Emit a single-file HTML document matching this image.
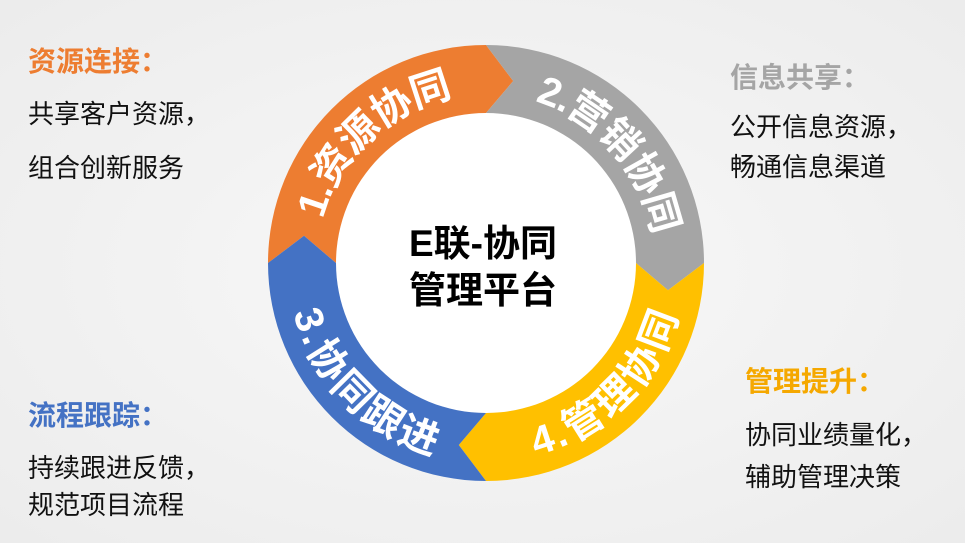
<!DOCTYPE html>
<html><head><meta charset="utf-8"><style>
body{margin:0;width:965px;height:543px;overflow:hidden;background:#f3f3f3;font-family:"Liberation Sans","Noto Sans CJK SC",sans-serif;}
.t{position:absolute;white-space:nowrap;}
.h{font-size:28px;font-weight:bold;}
.b{font-size:26px;color:#111;}
</style></head><body>
<svg width="965" height="543" style="position:absolute;left:0;top:0">
<defs>
<radialGradient id="bg" cx="50%" cy="50%" r="70%"><stop offset="0" stop-color="#f8f8f8"/><stop offset="1" stop-color="#ececec"/></radialGradient>
<path id="p1" d="M317,263 A169,169 0 0 1 486,94"/>
<path id="p2" d="M486,94 A169,169 0 0 1 655,263"/>
<path id="p4" d="M486,462 A199,199 0 0 0 685,263"/>
<path id="p3" d="M287,263 A199,199 0 0 0 486,462"/>
</defs>
<rect width="965" height="543" fill="url(#bg)"/>
<circle cx="486" cy="263" r="150" fill="#fff"/>
<path fill="#ED7D31" d="M268,263 A218,218 0 0 1 486,45 L513.2,81 L486,113 A150,150 0 0 0 336,263 L304,235.8 Z"/>
<path fill="#A5A5A5" d="M486,45 A218,218 0 0 1 704,263 L668,290.2 L636,263 A150,150 0 0 0 486,113 L513.2,81 Z"/>
<path fill="#FFC000" d="M704,263 A218,218 0 0 1 486,481 L458.8,445 L486,413 A150,150 0 0 0 636,263 L668,290.2 Z"/>
<path fill="#4472C4" d="M486,481 A218,218 0 0 1 268,263 L304,235.8 L336,263 A150,150 0 0 0 486,413 L458.8,445 Z"/>
<g fill="#fff" font-size="40" font-weight="bold" font-family="Liberation Sans, Noto Sans CJK SC, sans-serif">
<text letter-spacing="-1"><textPath href="#p1" startOffset="52%" text-anchor="middle">1.资源协同</textPath></text>
<text letter-spacing="-1"><textPath href="#p2" startOffset="54%" text-anchor="middle">2.营销协同</textPath></text>
<text letter-spacing="3"><textPath href="#p4" startOffset="50%" text-anchor="middle">4.管理协同</textPath></text>
<text letter-spacing="3"><textPath href="#p3" startOffset="50%" text-anchor="middle">3.协同跟进</textPath></text>
</g>
<g font-size="37" font-weight="bold" fill="#000" text-anchor="middle" font-family="Liberation Sans, Noto Sans CJK SC, sans-serif">
<text x="483" y="256">E联-协同</text>
<text x="483" y="303">管理平台</text>
</g>
</svg>
<div class="t h" style="left:28px;top:40px;color:#ED7D31">资源连接：</div>
<div class="t b" style="left:28px;top:94px">共享客户资源，</div>
<div class="t b" style="left:28px;top:148px">组合创新服务</div>
<div class="t h" style="left:730px;top:56px;color:#A5A5A5">信息共享：</div>
<div class="t b" style="left:730px;top:107px">公开信息资源，</div>
<div class="t b" style="left:730px;top:147px">畅通信息渠道</div>
<div class="t h" style="left:745px;top:360px;color:#F5A800">管理提升：</div>
<div class="t b" style="left:745px;top:415px">协同业绩量化，</div>
<div class="t b" style="left:745px;top:457px">辅助管理决策</div>
<div class="t h" style="left:28px;top:394px;color:#4472C4">流程跟踪：</div>
<div class="t b" style="left:28px;top:448px">持续跟进反馈，</div>
<div class="t b" style="left:28px;top:485px">规范项目流程</div>
</body></html>
